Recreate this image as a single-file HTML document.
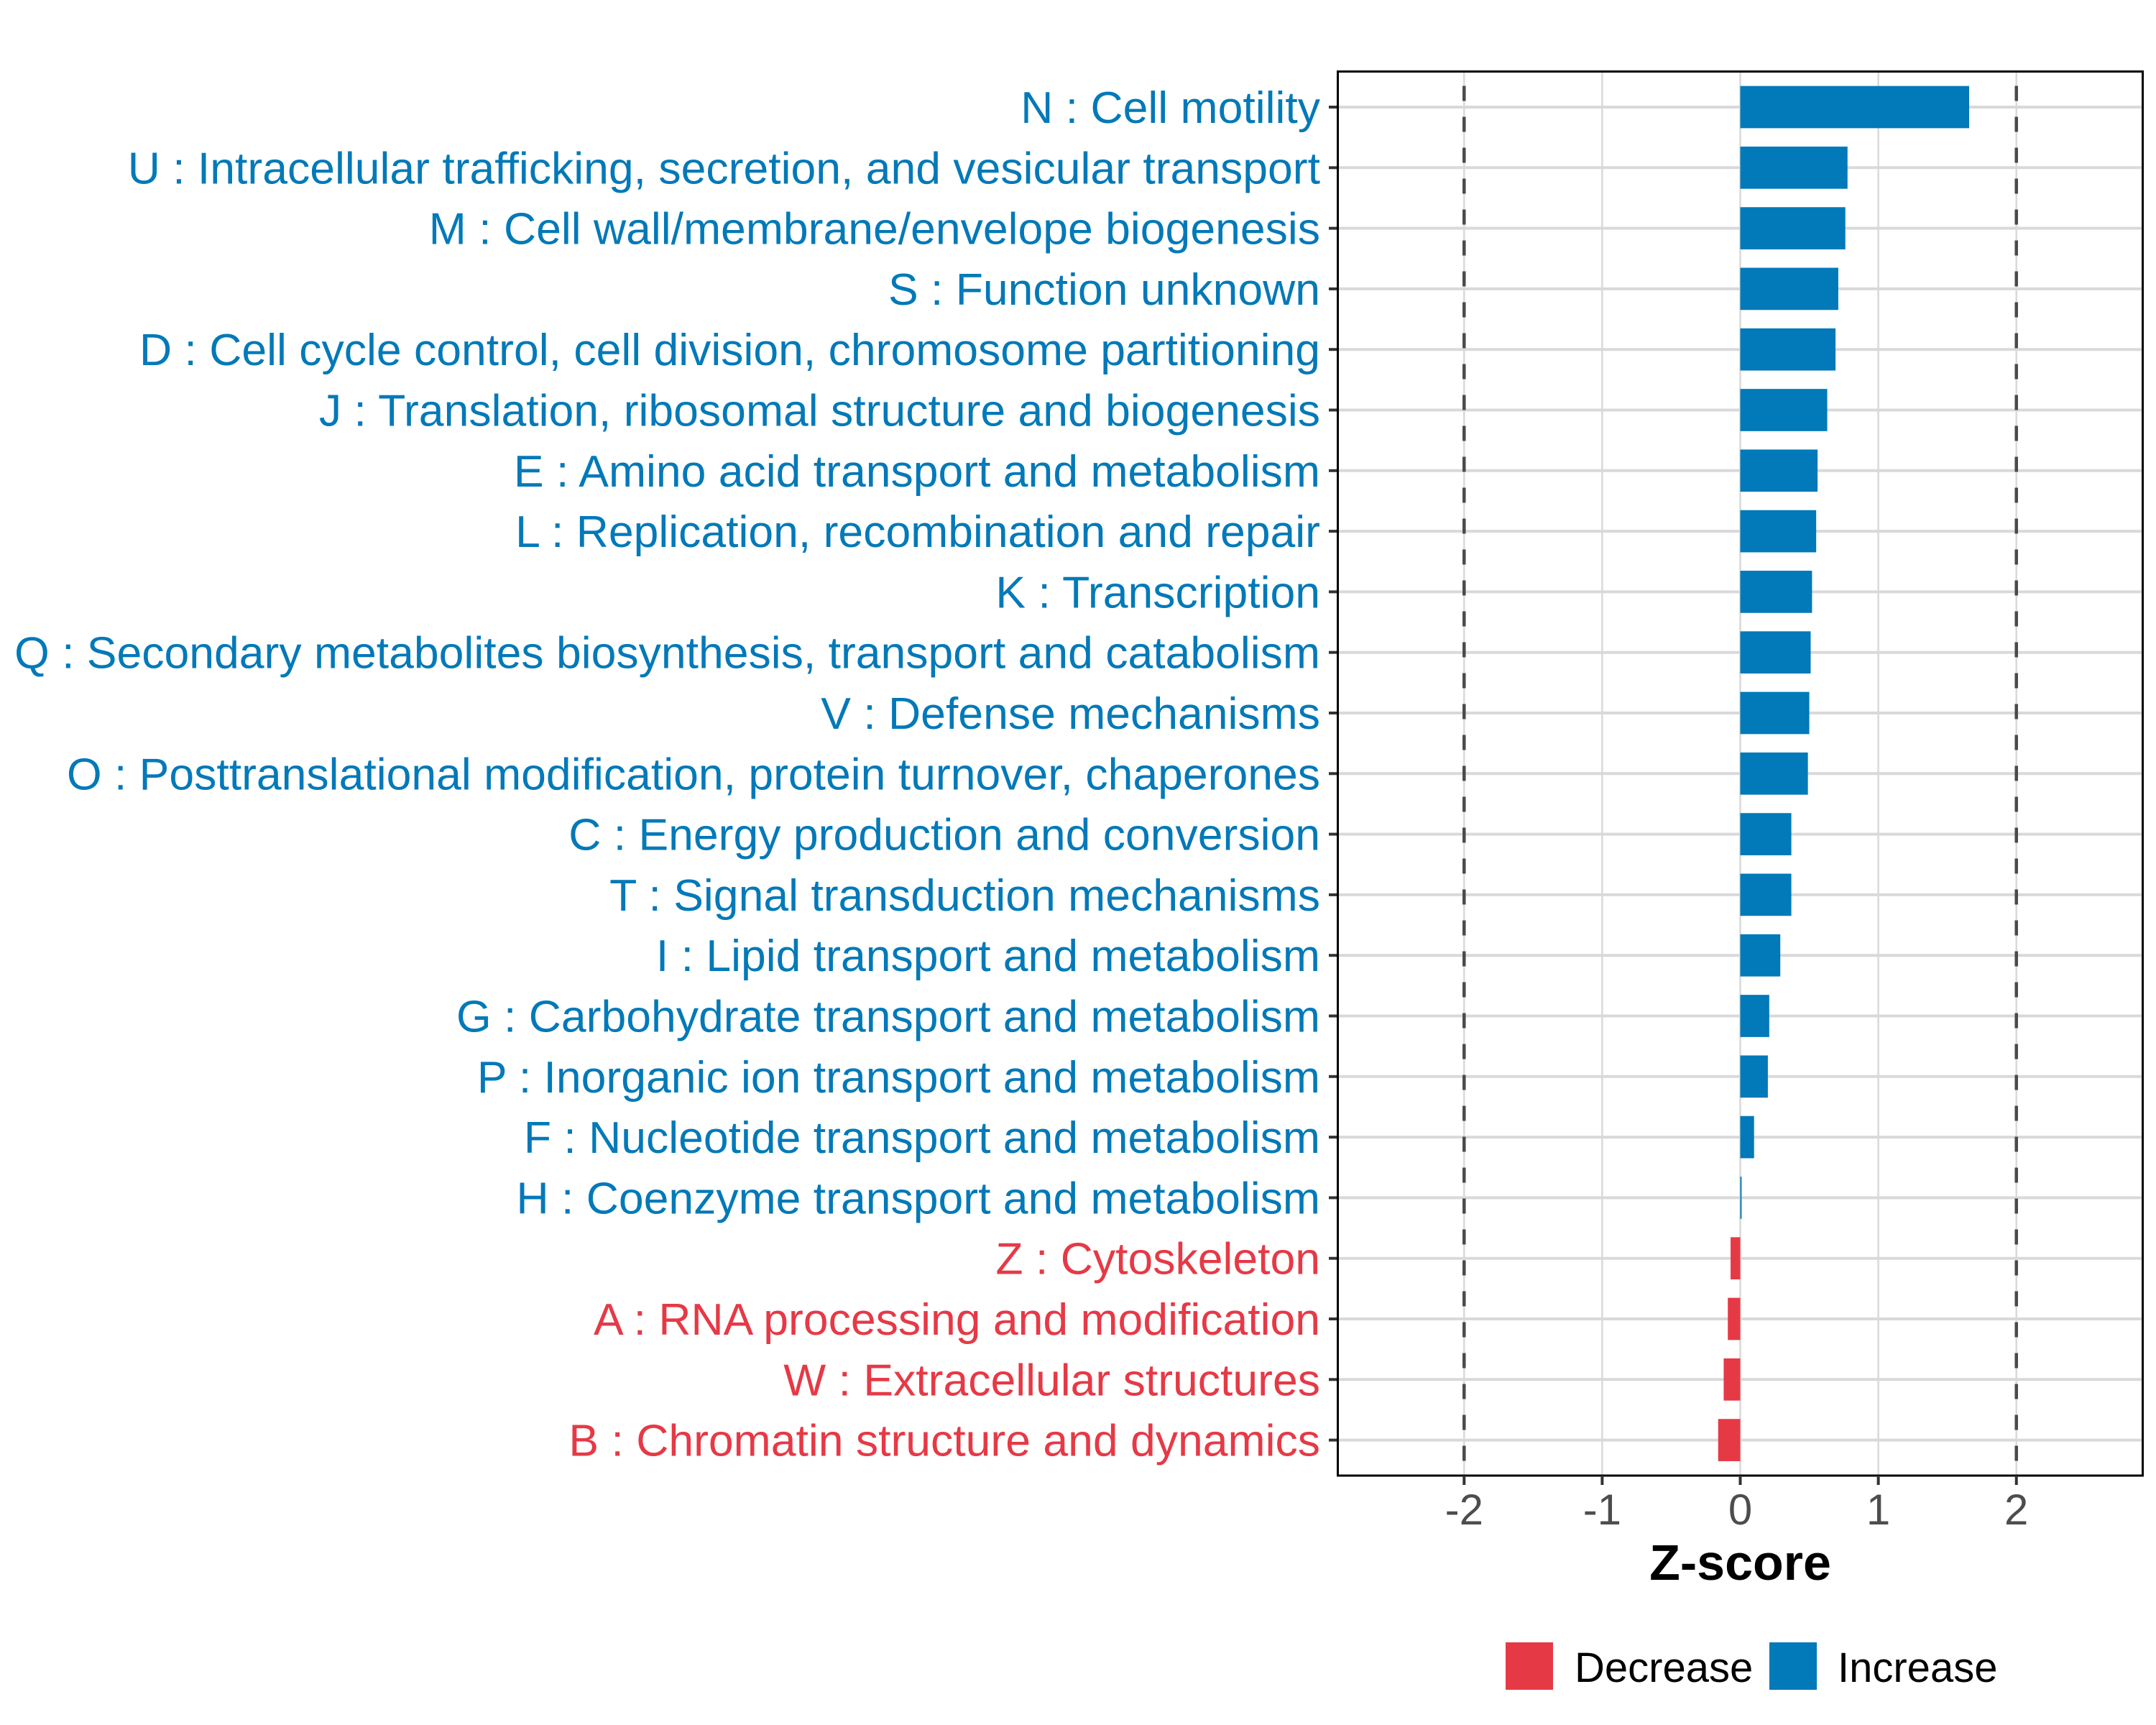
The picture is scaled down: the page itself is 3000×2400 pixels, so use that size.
<!DOCTYPE html>
<html><head><meta charset="utf-8"><style>
html,body{margin:0;padding:0;background:#fff;}
svg{display:block;font-family:"Liberation Sans",Arial,sans-serif;}
</style></head><body>
<svg id="chart" width="3000" height="2400" viewBox="0 0 3000 2400" xmlns="http://www.w3.org/2000/svg">
<g id="grid"></g>
<g id="bars"></g>
<g id="ylabels"></g>
<g id="xaxis"></g>
<text x="2421.5" y="2198" font-size="70" font-weight="bold" text-anchor="middle" fill="#000">Z-score</text>
<g>
<rect x="2095" y="2285" width="66" height="66" fill="#E63946"/>
<text x="2191" y="2340" font-size="58" fill="#000">Decrease</text>
<rect x="2462" y="2285" width="66" height="66" fill="#0279B8"/>
<text x="2557" y="2340" font-size="58" fill="#000">Increase</text>
</g>
</svg>
<script>
const categories = [
"N : Cell motility",
"U : Intracellular trafficking, secretion, and vesicular transport",
"M : Cell wall/membrane/envelope biogenesis",
"S : Function unknown",
"D : Cell cycle control, cell division, chromosome partitioning",
"J : Translation, ribosomal structure and biogenesis",
"E : Amino acid transport and metabolism",
"L : Replication, recombination and repair",
"K : Transcription",
"Q : Secondary metabolites biosynthesis, transport and catabolism",
"V : Defense mechanisms",
"O : Posttranslational modification, protein turnover, chaperones",
"C : Energy production and conversion",
"T : Signal transduction mechanisms",
"I : Lipid transport and metabolism",
"G : Carbohydrate transport and metabolism",
"P : Inorganic ion transport and metabolism",
"F : Nucleotide transport and metabolism",
"H : Coenzyme transport and metabolism",
"Z : Cytoskeleton",
"A : RNA processing and modification",
"W : Extracellular structures",
"B : Chromatin structure and dynamics"];
const zscores = [1.658,0.777,0.761,0.71,0.69,0.63,0.56,0.55,0.52,0.51,0.50,0.49,0.37,0.37,0.29,0.21,0.20,0.10,0.01,-0.07,-0.09,-0.12,-0.16];
const xTicks = [-2,-1,0,1,2];
const xTickLabels = ["-2","-1","0","1","2"];
const thresholds = [-2,2];

const NS='http://www.w3.org/2000/svg';
const L=1861.5,R=2981.5,T=99.5,B=2053;
const xmin=-2.915,xmax=2.915;
const x=v=>L+(v-xmin)/(xmax-xmin)*(R-L);
const y=i=>149+i*84.3;
const BLUE='#0279B8',RED='#E63946';
function mk(tag,attrs,parent){const e=document.createElementNS(NS,tag);for(const k in attrs)e.setAttribute(k,attrs[k]);parent.appendChild(e);return e;}
const grid=document.getElementById('grid'),bars=document.getElementById('bars'),yl=document.getElementById('ylabels'),xa=document.getElementById('xaxis');
xTicks.forEach((t,i)=>{
  const g=mk('line',{x1:x(t),x2:x(t),y1:T,y2:B,stroke:'#d9d9d9','stroke-width':2.5},grid);
  
  
});
categories.forEach((c,i)=>{
  const g=mk('line',{x1:L,x2:R,y1:y(i),y2:y(i),stroke:'#d9d9d9','stroke-width':4},grid);
  
  
});
thresholds.forEach(t=>{
  const d=mk('line',{x1:x(t),x2:x(t),y1:T,y2:B,stroke:'#4a4a4a','stroke-width':4.5,'stroke-dasharray':'21 22','stroke-dashoffset':'-20'},grid);
  
  
});
const bh=58.7;
categories.forEach((c,i)=>{
  const v=zscores[i];const col=v<0?RED:BLUE;
  const x0=Math.min(x(0),x(v)),w=Math.max(Math.abs(x(v)-x(0)),1.5);
  const r=mk('rect',{x:x0,y:y(i)-bh/2,width:w,height:bh,fill:col},bars);
  
  
  const t=mk('text',{x:1837,y:y(i)+22,'font-size':62.5,'text-anchor':'end',fill:col},yl);
  t.textContent=c;
  
  
  const tk=mk('line',{x1:1849,x2:L,y1:y(i),y2:y(i),stroke:'#333','stroke-width':4},yl);
  
  
});
const frame=mk('rect',{x:L,y:T,width:R-L,height:B-T,fill:'none',stroke:'#000','stroke-width':3},xa);


xTicks.forEach((t,i)=>{
  const tk=mk('line',{x1:x(t),x2:x(t),y1:B,y2:B+13,stroke:'#333','stroke-width':4},xa);
  
  
  const lb=mk('text',{x:x(t),y:2121,'font-size':60,'text-anchor':'middle',fill:'#4d4d4d'},xa);
  lb.textContent=xTickLabels[i];
  
  
});
</script>
</body></html>
